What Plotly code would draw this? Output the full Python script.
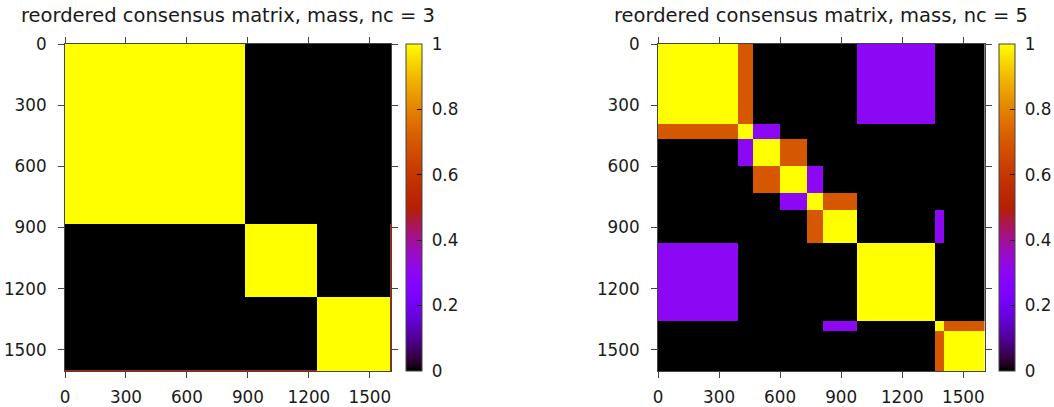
import numpy as np
import plotly.graph_objects as go

# ---------------- data ----------------
# left: nc = 3  (block edges along both axes, sample index)
left_edges = [0, 885, 1240, 1599, 1604]
left_values = [
    [1.0, 0.0, 0.0, 0.0],
    [0.0, 1.0, 0.0, 0.5],
    [0.0, 0.0, 1.0, 0.5],
    [0.5, 0.5, 1.0, 0.5],
]

# right: nc = 5
right_edges = [0, 392, 466, 600, 732, 812, 977, 1361, 1407, 1604]
Y, O, P, K = 1.0, 0.7, 0.3, 0.0
right_values = [
    [Y, O, K, K, K, K, P, K, K],
    [O, Y, P, K, K, K, K, K, K],
    [K, P, Y, O, K, K, K, K, K],
    [K, K, O, Y, P, K, K, K, K],
    [K, K, K, P, Y, O, K, K, K],
    [K, K, K, K, O, Y, K, P, K],
    [P, K, K, K, K, K, Y, K, K],
    [K, K, K, K, K, P, K, Y, O],
    [K, K, K, K, K, K, K, O, Y],
]

titles = ["reordered consensus matrix, mass, nc = 3",
          "reordered consensus matrix, mass, nc = 5"]
axis_ticks = [0, 300, 600, 900, 1200, 1500]
cbar_ticks = [0, 0.2, 0.4, 0.6, 0.8, 1]
cbar_labels = ["0", "0.2", "0.4", "0.6", "0.8", "1"]

# ---------------- gnuplot-like palette (rgbformulae 7,5,15) ----------------
def pal(v):
    r = np.sqrt(v)
    g = v ** 3
    b = max(0.0, np.sin(2 * np.pi * v))
    return "rgb(%d,%d,%d)" % (round(255 * r), round(255 * g), round(255 * b))

stops = np.linspace(0, 1, 41)
colorscale = [[float(s), pal(float(s))] for s in stops]

W, H = 1054, 407
FONT = "DejaVu Sans"
TXT = "#1a1a1a"
AX = "#444444"
FS = 16.8

panels = [
    dict(x0=65, x1=391, cb=405.5, edges=left_edges, z=left_values),
    dict(x0=658, x1=984.5, cb=998.5, edges=right_edges, z=right_values),
]
ytop, ybot = 44, 371
N = 1604

fig = go.Figure()
layout = dict(width=W, height=H,
              margin=dict(l=0, r=0, t=0, b=0, autoexpand=False),
              paper_bgcolor="white", plot_bgcolor="white",
              font=dict(family=FONT, size=FS, color=TXT), annotations=[])

for i, p in enumerate(panels):
    sfx = "" if i == 0 else str(i + 1)
    fig.add_trace(go.Heatmap(
        x=p["edges"], y=p["edges"], z=p["z"],
        xaxis="x" + sfx, yaxis="y" + sfx,
        colorscale=colorscale, zmin=0, zmax=1, hoverinfo="skip",
        colorbar=dict(
            x=p["cb"] / W, xanchor="left", xpad=0, ypad=0,
            y=1 - ytop / H, yanchor="top",
            len=ybot - ytop, lenmode="pixels",
            thickness=16, thicknessmode="pixels",
            outlinewidth=1, outlinecolor=AX,
            ticks="inside", ticklen=5, tickcolor="#111111",
            tickvals=cbar_ticks,
            ticktext=["\u00a0" + t for t in cbar_labels],
            tickfont=dict(family=FONT, size=FS, color=TXT),
        ),
    ))
    common = dict(showline=True, linecolor=AX, linewidth=1, mirror="ticks",
                  ticks="outside", ticklen=6, tickcolor=AX, showgrid=False,
                  zeroline=False, tickvals=axis_ticks, automargin=False,
                  tickfont=dict(family=FONT, size=FS, color=TXT))
    layout["xaxis" + sfx] = dict(common, domain=[p["x0"] / W, p["x1"] / W],
                                 range=[0, N], anchor="y" + sfx,
                                 ticklabelstandoff=5)
    layout["yaxis" + sfx] = dict(common, domain=[1 - ybot / H, 1 - ytop / H],
                                 range=[N, 0], anchor="x" + sfx,
                                 ticklabelstandoff=8)
    layout["annotations"].append(dict(
        text=titles[i], x=(p["x0"] + p["x1"]) / 2 / W, y=1 - 15 / H,
        xref="paper", yref="paper", xanchor="center", yanchor="middle",
        showarrow=False, font=dict(family=FONT, size=19.5, color=TXT)))

fig.update_layout(**layout)
fig.write_html("out.html")
